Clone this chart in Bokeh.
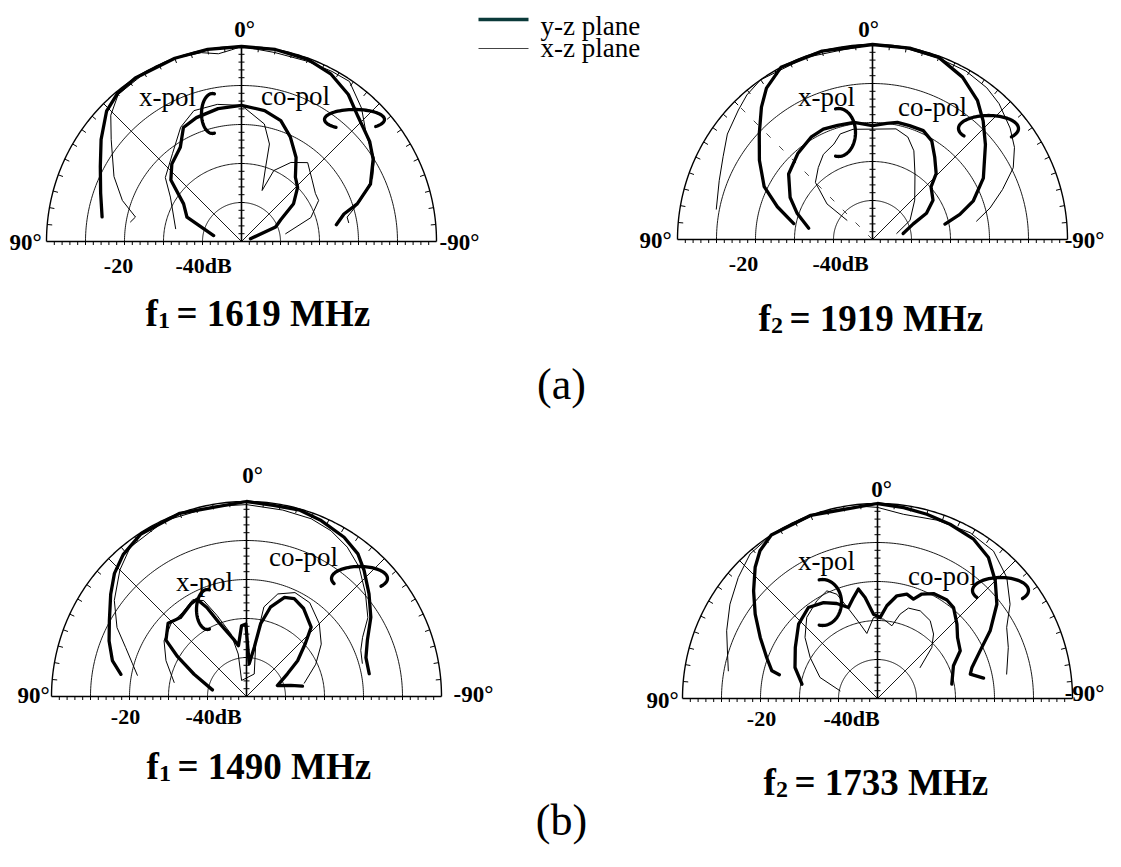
import numpy as np
from bokeh.plotting import figure
from bokeh.models import Range1d
from bokeh.embed import file_html
from bokeh.resources import INLINE
from bokeh.core.properties import value

# ---------------- data (angle in degrees, 0 = broadside, +90 = left; level in dB) ----------------
P1_CO_YZ_ANG = [80, 71, 62, 54, 46, 40, 33, 20, 10, 0, -10, -20, -28, -36, -43, -52, -58, -66, -72, -75, -80]
P1_CO_YZ_DB = [-13.7, -11.8, -9.0, -5.5, -1.9, -0.5, 0, 0, 0, 0, 0, -0.3, -1.3, -3.4, -6.2, -8.3, -10.2, -13.8, -18.8, -22.8, -25.3]
P1_CO_XZ_ANG = [80, 77, 71, 63, 52, 46, 40, 30, 20, 12, 7, 3, 0, -10, -20, -28, -34, -42, -50, -58, -64, -71, -77, -80]
P1_CO_XZ_DB = [-21.1, -22.1, -17.7, -13.3, -7.6, -3.4, -0.8, -0.2, 0, -0.5, -1.5, -0.8, 0, -0.8, -0.8, -0.6, -0.5, -4.0, -8.1, -9.8, -12.6, -17.7, -22.2, -22.1]
P1_XP_YZ_ANG = [78, 66, 57, 49, 42, 33, 27, 20, 10, 0, -10, -18, -25, -33, -40, -46, -54, -61, -67, -73]
P1_XP_YZ_DB = [-42.7, -34.7, -32.3, -26.0, -23.3, -21.2, -17.2, -16.2, -15.4, -15.1, -15.9, -17.4, -20.4, -24.3, -28.5, -30.0, -33.5, -38.5, -40.5, -47.6]
P1_XP_XZ_ANG = [79, 58, 50, 38, 28, 20, 10, 0, -11, -16, -18, -22, -24.5, -32, -40, -49, -57, -62, -71, -80]
P1_XP_XZ_DB = [-32.8, -28.5, -24.5, -21.3, -16.8, -14.3, -14.3, -15.1, -19.3, -24.0, -30.0, -35.9, -30.0, -26.1, -23.6, -26.0, -27.4, -27.6, -31.2, -38.5]

P2_CO_YZ_ANG = [78.6, 71, 64, 55, 47, 40, 35, 28, 15, 0, -11, -20, -29, -37, -43, -50, -61, -69, -74, -78]
P2_CO_YZ_DB = [-29.4, -24.2, -19.1, -14.6, -10.3, -5.7, -2.6, 0, 0, 0, 0, -0.3, -2.4, -5.3, -8.4, -12.2, -17.5, -22.3, -26.7, -31.0]
P2_CO_XZ_ANG = [79, 69, 61, 54, 46, 41, 35, 20, 10, 0, -10, -20, -29, -37, -43, -51, -57, -63, -69, -75, -80]
P2_CO_XZ_DB = [-9.2, -7.9, -6.2, -4.0, -2.2, -0.9, 0, -0.3, -0.8, 0, -0.3, -0.5, -0.6, -1.3, -2.4, -4.6, -6.6, -9.5, -14.3, -18.8, -22.9]
P2_XP_YZ_ANG = [80, 71, 63, 52, 41, 31, 24, 17, 9, 0, -7, -12, -18, -25, -31, -37, -44, -48, -57, -64, -69, -79]
P2_XP_YZ_DB = [-33.4, -29.6, -26.3, -22.7, -20.8, -19.4, -19.0, -19.4, -19.6, -20.8, -20.0, -19.3, -19.3, -19.2, -20.5, -23.5, -26.5, -29.8, -31.5, -34.6, -38.8, -42.0]
P2_XP_XZ_ANG = [53, 52, 45, 37, 30, 22, 17, 10, 0, -12, -19, -25, -33, -47, -63, -76]
P2_XP_XZ_DB = [-41.8, -35.2, -29.3, -26.9, -24.8, -23.6, -21.7, -21.3, -21.7, -21.0, -22.2, -24.9, -30.0, -35.2, -39.2, -43.6]

P3_CO_YZ_ANG = [80, 75, 68, 61, 53, 47, 41, 33, 20, 0, -8, -16, -23, -31.5, -38, -43, -50, -57.5, -65, -72, -79.5]
P3_CO_YZ_DB = [-17.3, -14.4, -12.0, -9.8, -6.4, -3.7, -1.8, -0.3, 0, 0, -0.5, -0.3, -1.0, -2.1, -3.6, -5.8, -9.0, -12.2, -15.8, -17.8, -18.0]
P3_CO_XZ_ANG = [79, 74, 68, 62, 54, 45, 38, 25, 10, 0, -11, -20, -27, -34, -41, -49, -57, -63, -68, -74]
P3_CO_XZ_DB = [-21.5, -19.6, -16.6, -12.4, -8.1, -4.1, -1.5, -0.3, -0.5, -0.8, -1.3, -1.5, -2.3, -3.8, -6.0, -9.6, -12.9, -16.6, -18.4, -19.1]
P3_XP_YZ_ANG = [79, 67, 60, 55, 47, 40, 31, 27, 24, 20, 12, 9, 4, 0.5, -4.7, -9, -11, -15, -21, -26, -33, -43, -48, -55, -61, -70.5, -76, -79.5]
P3_XP_YZ_DB = [-41.1, -35.4, -29.6, -24.8, -22.5, -23.6, -22.3, -22.0, -25.0, -30.2, -35.3, -36.8, -31.8, -31.4, -41.6, -37.2, -31.0, -26.3, -22.8, -22.1, -23.1, -25.7, -29.7, -34.0, -38.0, -41.6, -38.3, -35.4]
P3_XP_XZ_ANG = [79, 66, 56, 46, 37, 29, 24, 20, 14, 11, 17, -19, -9.5, -11, -17, -25, -34, -45, -55, -65, -77]
P3_XP_XZ_DB = [-31.1, -27.4, -24.5, -23.1, -22.9, -21.6, -23.1, -27.9, -33.4, -38.9, -45.7, -43.9, -35.4, -26.6, -22.5, -20.6, -21.0, -23.6, -26.6, -30.4, -34.8]

P4_CO_YZ_ANG = [76.4, 75.3, 69.7, 62.5, 55.4, 49, 43, 38.5, 33, 20, 0, -7.8, -15, -22.6, -31.1, -38.2, -45, -51.7, -59, -65.1, -71.8, -75.3, -79.1]
P4_CO_YZ_DB = [-24.1, -22.0, -19.7, -16.1, -11.9, -7.9, -4.0, -1.6, 0, 0, 0, -0.6, -1.1, -1.6, -2.3, -4.0, -7.3, -11.0, -16.3, -21.0, -24.5, -25.4, -22.3]
P4_CO_XZ_ANG = [79.5, 73.5, 65.8, 57.4, 49, 41.4, 33, 17, 5, 0, -8, -18.4, -29.2, -38.2, -46.9, -54.6, -61.2, -68.7, -79.3]
P4_CO_XZ_DB = [-11.1, -9.9, -7.6, -5.1, -2.7, -0.6, 0, 0, -0.5, -1.0, -2.3, -1.8, -1.3, -1.9, -4.6, -8.3, -12.2, -14.0, -16.3]
P4_XP_YZ_ANG = [79.3, 69.4, 58.2, 46.7, 37.2, 29.4, 23.2, 17.7, 13.4, 9.9, 7, 2.7, -1.9, -5.75, -10.7, -15.7, -19.9, -23, -28.1, -35.2, -39.9, -46.9, -52.7, -60, -66.7, -79.1]
P4_XP_YZ_DB = [-30.3, -27.4, -25.2, -22.2, -20.7, -21.8, -23.5, -25.5, -23.4, -21.5, -23.9, -28.4, -29.2, -26.1, -23.2, -22.2, -22.9, -20.9, -19.5, -19.1, -19.6, -22.1, -24.2, -25.5, -28.8, -30.6]
P4_XP_XZ_ANG = [78.4, 69.9, 58.7, 49.9, 41.1, 31.8, 25.2, 21.3, 17.3, 13.1, 9.3, 2.8, -4.3, -11.2, -15, -18.9, -26, -34.1, -41, -46.8, -54]
P4_XP_XZ_DB = [-40.2, -34.3, -29.8, -25.7, -22.4, -20.5, -19.5, -21.3, -26.5, -30.4, -33.1, -29.2, -29.6, -31.0, -27.6, -25.5, -25.0, -25.9, -28.1, -30.9, -36.5]

RING_DB = [-10, -20, -30, -40]
DB_MIN = -50.0
TICK_LABELS = ["-20", "-40dB"]
ANGLE_LABELS = ["0°", "90°", "-90°"]
TITLE_SUB = ["1", "2", "1", "2"]
TITLE_FREQ = ["1619", "1919", "1490", "1733"]
PANEL_LABELS = ["(a)", "(b)"]
LEGEND_NAMES = ["y-z plane", "x-z plane"]

# ---------------- layout (pixels) ----------------
R = 195.0
W, H = 1105, 851
PANELS = [
    dict(cx=241, cy=241, curves=[(P1_CO_YZ_ANG, P1_CO_YZ_DB, 3.3), (P1_CO_XZ_ANG, P1_CO_XZ_DB, 1), (P1_XP_YZ_ANG, P1_XP_YZ_DB, 3.3), (P1_XP_XZ_ANG, P1_XP_XZ_DB, 1)],
         xlbl=(167, 96), clbl=(295, 95), zero=(244, 29), l90=(25, 242), r90=(459, 242), r90_align="center", tly=265, t20=118, t40=203,
         title=(145, 313), xmark=(212, 113, 11, 20, 80, 280), cmark=(354, 119, 30, 10, -45, 232), dash_left=False),
    dict(cx=872, cy=239, curves=[(P2_CO_YZ_ANG, P2_CO_YZ_DB, 3.3), (P2_CO_XZ_ANG, P2_CO_XZ_DB, 1), (P2_XP_YZ_ANG, P2_XP_YZ_DB, 3.3), (P2_XP_XZ_ANG, P2_XP_XZ_DB, 1)],
         xlbl=(826, 96), clbl=(932, 106), zero=(868, 29), l90=(655, 240), r90=(1104, 240), r90_align="right", tly=263, t20=743, t40=840,
         title=(758, 318), xmark=(838, 132, 17, 24, -100, 100), cmark=(988, 128, 30, 13, -40, 215), dash_left=True),
    dict(cx=246, cy=696, curves=[(P3_CO_YZ_ANG, P3_CO_YZ_DB, 3.3), (P3_CO_XZ_ANG, P3_CO_XZ_DB, 1), (P3_XP_YZ_ANG, P3_XP_YZ_DB, 3.3), (P3_XP_XZ_ANG, P3_XP_XZ_DB, 1)],
         xlbl=(204, 581), clbl=(303, 556), zero=(252, 475), l90=(33, 695), r90=(473, 694), r90_align="center", tly=716, t20=125, t40=213,
         title=(146, 766), xmark=(207, 609, 11, 20, 80, 280), cmark=(359, 578, 28, 12, -40, 205), dash_left=False),
    dict(cx=877, cy=698, curves=[(P4_CO_YZ_ANG, P4_CO_YZ_DB, 3.3), (P4_CO_XZ_ANG, P4_CO_XZ_DB, 1), (P4_XP_YZ_ANG, P4_XP_YZ_DB, 3.3), (P4_XP_XZ_ANG, P4_XP_XZ_DB, 1)],
         xlbl=(826, 560), clbl=(942, 575), zero=(881, 489), l90=(662, 700), r90=(1104, 693), r90_align="right", tly=718, t20=761, t40=851,
         title=(763, 782), xmark=(822, 602, 19, 23, -100, 100), cmark=(1000, 590, 28, 13, -38, 212), dash_left=False),
]

SERIF = value("Liberation Serif")

p = figure(width=W, height=H, x_range=Range1d(0, W), y_range=Range1d(H, 0),
           output_backend="svg", toolbar_location=None, x_axis_type=None, y_axis_type=None,
           min_border=0, outline_line_color=None)
p.grid.visible = False
p.background_fill_color = "white"


def polar(cx, cy, ang, db):
    ang = np.asarray(ang, float)
    db = np.clip(np.asarray(db, float), DB_MIN, 0)
    r = R * (db - DB_MIN) / (-DB_MIN)
    t = np.radians(ang)
    return cx - r * np.sin(t), cy - r * np.cos(t)


def ell(m):
    ex, ey, rx, ry, t0, t1 = m
    t = np.radians(np.linspace(t0, t1, 60))
    return ex + rx * np.cos(t), ey - ry * np.sin(t)


for P in PANELS:
    cx, cy = P["cx"], P["cy"]
    sweep = np.arange(-90, 90.5, 1.0)
    for d in RING_DB:
        x, y = polar(cx, cy, sweep, np.full_like(sweep, d))
        p.line(x, y, line_color="black", line_width=0.9)
    x, y = polar(cx, cy, sweep, np.zeros_like(sweep))
    p.line(x, y, line_color="black", line_width=1.4)
    xa, ya = polar(cx, cy, [90, -90], [0, 0])
    p.line(xa, ya, line_color="black", line_width=1.4)
    xv, yv = polar(cx, cy, [0, 0], [DB_MIN, 0])
    p.line(xv, yv, line_color="black", line_width=1.6)
    for a in (45, -45):
        xd, yd = polar(cx, cy, [a, a], [DB_MIN, 0])
        if a == 45 and P["dash_left"]:
            p.line(xd, yd, line_color="#333333", line_width=0.9, line_dash="6 12")
        else:
            p.line(xd, yd, line_color="black", line_width=0.9)
    ta = np.arange(-85, 90, 5.0)
    x0, y0 = polar(cx, cy, ta, np.zeros_like(ta))
    x1, y1 = polar(cx, cy, ta, np.full_like(ta, DB_MIN + (R - 5) / R * (-DB_MIN)))
    p.segment(x0, y0, x1, y1, line_color="black", line_width=1)
    td = np.arange(-48, 0, 2.0)
    for a in (90, -90):
        xt, yt = polar(cx, cy, np.full_like(td, a), td)
        p.segment(xt, yt - 0.5, xt, yt + 3.5, line_color="black", line_width=1)
    xt, yt = polar(cx, cy, np.zeros_like(td), td)
    p.segment(xt - 3, yt, xt + 3, yt, line_color="black", line_width=1)
    for ang, db, w in P["curves"]:
        x, y = polar(cx, cy, ang, db)
        p.line(x, y, line_color="black", line_width=w, line_join="round", line_cap="round")
    for key in ("xmark", "cmark"):
        x, y = ell(P[key])
        p.line(x, y, line_color="black", line_width=3.3, line_cap="round")
    p.text([P["xlbl"][0], P["clbl"][0]], [P["xlbl"][1], P["clbl"][1]], text=["x-pol", "co-pol"],
           text_align="center", text_baseline="middle", text_font=SERIF, text_font_size="27px", text_color="black")
    p.text([P["zero"][0], P["l90"][0]], [P["zero"][1], P["l90"][1]], text=ANGLE_LABELS[:2],
           text_align="center", text_baseline="middle", text_font=SERIF, text_font_style="bold",
           text_font_size="23px", text_color="black")
    p.text([P["r90"][0]], [P["r90"][1]], text=ANGLE_LABELS[2:],
           text_align=P["r90_align"], text_baseline="middle", text_font=SERIF, text_font_style="bold",
           text_font_size="23px", text_color="black")
    p.text([P["t20"], P["t40"]], [P["tly"], P["tly"]], text=TICK_LABELS,
           text_align="center", text_baseline="middle", text_font=SERIF, text_font_style="bold",
           text_font_size="22px", text_color="black")

for i, P in enumerate(PANELS):
    tx, ty = P["title"]
    p.text([tx], [ty], text=["f"], text_align="left", text_baseline="alphabetic", text_font=SERIF,
           text_font_style="bold", text_font_size="37px", text_color="black")
    p.text([tx + 12.5], [ty + 7], text=[TITLE_SUB[i]], text_align="left", text_baseline="alphabetic", text_font=SERIF,
           text_font_style="bold", text_font_size="24px", text_color="black")
    p.text([tx + 31], [ty], text=["= " + TITLE_FREQ[i] + " MHz"], text_align="left", text_baseline="alphabetic",
           text_font=SERIF, text_font_style="bold", text_font_size="37px", text_color="black")

p.text([561, 561], [384, 820], text=PANEL_LABELS, text_align="center", text_baseline="middle", text_font=SERIF,
       text_font_size="44px", text_color="black")

p.line([478, 528], [19, 19], line_color="#0b3a3a", line_width=3.5)
p.line([478, 528], [48, 48], line_color="#444444", line_width=1)
p.text([540, 540], [25, 47], text=LEGEND_NAMES, text_align="left", text_baseline="alphabetic", text_font=SERIF,
       text_font_size="27px", text_color="black")

open("out.html", "w").write(file_html(p, INLINE))
